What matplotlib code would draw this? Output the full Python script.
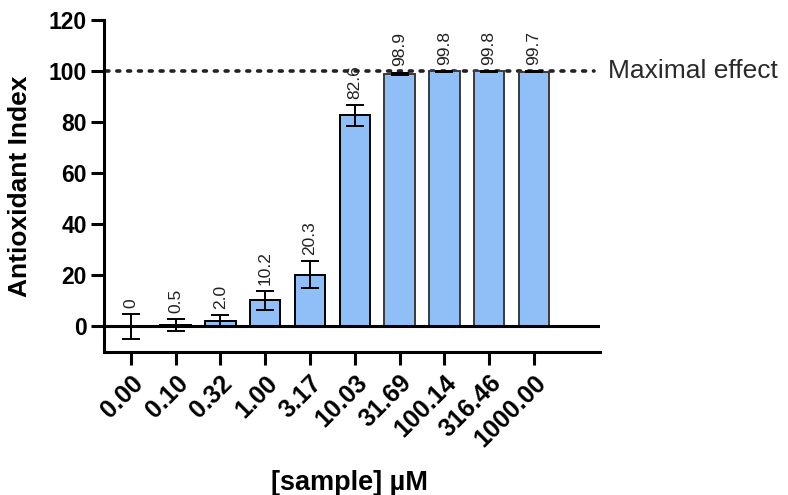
import numpy as np
import matplotlib
matplotlib.use("Agg")
import matplotlib.pyplot as plt

plt.rcParams['font.family'] = ['Liberation Sans', 'DejaVu Sans']

conc = ['0.00', '0.10', '0.32', '1.00', '3.17', '10.03', '31.69', '100.14', '316.46', '1000.00']
index = [0, 0.5, 2.0, 10.2, 20.3, 82.6, 98.9, 99.8, 99.8, 99.7]
err = [4.8, 2.4, 2.3, 3.6, 5.3, 4.0, 0.4, 0.2, 0.2, 0.2]
labels = ['0', '0.5', '2.0', '10.2', '20.3', '82.6', '98.9', '99.8', '99.8', '99.7']
edges = ['black'] * 6 + ['#3a3a3a'] * 4

fig = plt.figure(figsize=(7.88, 4.95), dpi=100)
ax = fig.add_axes([0.132, 0.289, 0.629, 0.671])

x = np.arange(len(conc))
ax.bar(x, index, width=0.68, color='#90bff7', edgecolor=edges, linewidth=1.4, zorder=2)
ax.errorbar(x, index, yerr=err, fmt='none', ecolor='black', elinewidth=1.4,
            capsize=6.5, capthick=1.4, zorder=3)
ax.axhline(0, color='black', lw=2.2, zorder=4)
ax.plot([-0.55, 10.35], [100, 100], ls=(0, (0.8, 2.2)), color='#222222', lw=2.6,
        dash_capstyle='round', zorder=1, clip_on=False)
ax.text(10.65, 100, 'Maximal effect', fontsize=19, color='#2a2a2a', va='center', ha='left')

for xi, v, e, t in zip(x, index, err, labels):
    ax.text(xi, v + e + 2.5, t, rotation=90, ha='center', va='bottom', fontsize=12.5,
            color='#222222', zorder=5)

ax.set_xlim(-0.6, 10.47)
ax.set_ylim(-10, 120)
ax.set_yticks([0, 20, 40, 60, 80, 100, 120])
ax.set_xticks(x)
ax.set_xticklabels(conc, rotation=45, ha='right', va='top', rotation_mode='anchor',
                   fontsize=18, fontweight='bold')
for lab in ax.get_yticklabels():
    lab.set_fontsize(16.5)
    lab.set_fontweight('bold')

ax.spines['top'].set_visible(False)
ax.spines['right'].set_visible(False)
ax.spines['left'].set_linewidth(2.2)
ax.spines['bottom'].set_linewidth(2.2)
ax.tick_params(axis='y', length=9.5, width=2.2, pad=3)
ax.tick_params(axis='x', length=9.5, width=2.2, pad=4)

ax.set_ylabel('Antioxidant Index', fontsize=19, fontweight='bold')
ax.yaxis.set_label_coords(-0.145, 0.5)
ax.set_xlabel('[sample] µM', fontsize=19.5, fontweight='bold')
ax.xaxis.set_label_coords(0.496, -0.355)

fig.savefig('out.png', dpi=100)
